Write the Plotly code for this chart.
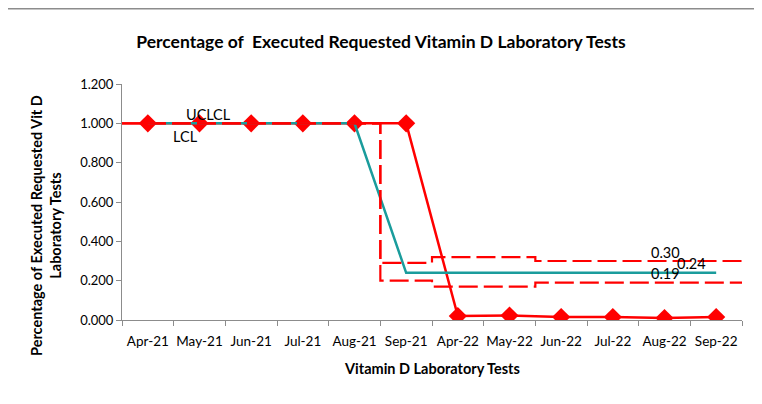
import plotly.graph_objects as go

months = ["Apr-21", "May-21", "Jun-21", "Jul-21", "Aug-21", "Sep-21",
          "Apr-22", "May-22", "Jun-22", "Jul-22", "Aug-22", "Sep-22"]
pct_executed = [1.0, 1.0, 1.0, 1.0, 1.0, 1.0, 0.020, 0.023, 0.015, 0.015, 0.010, 0.015]
center_line = [1.0, 1.0, 1.0, 1.0, 1.0, 0.24, 0.24, 0.24, 0.24, 0.24, 0.24, 0.24]
ucl = [1.0, 1.0, 1.0, 1.0, 1.0, 0.29, 0.32, 0.32, 0.30, 0.30, 0.30, 0.30]
lcl = [1.0, 1.0, 1.0, 1.0, 1.0, 0.20, 0.17, 0.17, 0.19, 0.19, 0.19, 0.19]
y_ticks = [0.0, 0.2, 0.4, 0.6, 0.8, 1.0, 1.2]

idx = list(range(len(months)))
# control limits extend to the plot edges (half a category on each side)
idx_ext = [idx[0] - 0.5] + idx + [idx[-1] + 0.5]
ucl_ext = [ucl[0]] + ucl + [ucl[-1]]
lcl_ext = [lcl[0]] + lcl + [lcl[-1]]

RED = "#FF0000"
TEAL = "#1A9C9C"
FONT = "Lato"

fig = go.Figure()
fig.add_trace(go.Scatter(x=idx, y=pct_executed, mode="lines+markers",
                         line=dict(color=RED, width=2.5),
                         marker=dict(symbol="diamond", size=14, color=RED),
                         showlegend=False))
fig.add_trace(go.Scatter(x=idx, y=center_line, mode="lines",
                         line=dict(color=TEAL, width=2.5), showlegend=False))
fig.add_trace(go.Scatter(x=idx_ext, y=ucl_ext, mode="lines",
                         line=dict(color=RED, width=2.2, dash="19px,6px", shape="hvh"),
                         showlegend=False))
fig.add_trace(go.Scatter(x=idx_ext, y=lcl_ext, mode="lines",
                         line=dict(color=RED, width=2.2, dash="19px,6px", shape="hvh"),
                         showlegend=False))

bounds = [i - 0.5 for i in idx] + [idx[-1] + 0.5]

fig.update_layout(
    width=762, height=404,
    margin=dict(l=114, r=28, t=76, b=92),
    paper_bgcolor="white", plot_bgcolor="white",
    font=dict(family=FONT, size=13, color="#000000"),
    title=dict(text="<b>Percentage of  Executed Requested Vitamin D Laboratory Tests</b>",
               x=373 / 762, xref="container", xanchor="center",
               y=1 - 34 / 404, yref="container", yanchor="middle",
               font=dict(family=FONT, size=17.5, color="#000000")),
    xaxis=dict(range=[-0.5, len(months) - 0.5], tickvals=idx, ticktext=months,
               showgrid=False, zeroline=False, showline=True, linecolor="#8C8C8C", linewidth=1,
               ticks="", ticklen=0, ticklabelstandoff=9,
               minor=dict(tickvals=bounds, ticks="outside", ticklen=5, tickcolor="#8C8C8C"),
               tickfont=dict(family=FONT, size=13.5)),
    yaxis=dict(range=[0, 1.2], tickvals=y_ticks, tickformat=".3f",
               showgrid=False, zeroline=False, showline=True, linecolor="#8C8C8C", linewidth=1,
               ticks="outside", ticklen=5, tickcolor="#8C8C8C",
               tickfont=dict(family=FONT, size=13)),
    shapes=[dict(type="line", xref="paper", yref="paper",
                 x0=(8 - 122) / 620, x1=(780 - 122) / 620,
                 y0=(312 - 0.8) / 236, y1=(312 - 0.8) / 236,
                 line=dict(color="#8C8C8C", width=1.5))],
)

ann = [
    dict(text="UCL", x=1.0, y=1.045),
    dict(text="CL", x=1.44, y=1.045),
    dict(text="LCL", x=0.72, y=0.935),
    dict(text="0.30", x=10.02, y=0.345),
    dict(text="0.24", x=10.52, y=0.288),
    dict(text="0.19", x=10.02, y=0.235),
]
for a in ann:
    fig.add_annotation(text=a["text"], x=a["x"], y=a["y"], xref="x", yref="y",
                       showarrow=False, font=dict(family=FONT, size=14.5, color="#000000"))

fig.add_annotation(text="<b>Percentage of Executed Requested Vit D<br>Laboratory Tests</b>",
                   xref="paper", yref="paper", x=(46 - 122) / 620, y=(320 - 226) / 236,
                   xanchor="center", yanchor="middle",
                   textangle=-90, showarrow=False, align="center",
                   font=dict(family=FONT, size=14.5, color="#000000"))
fig.add_annotation(text="<b>Vitamin D Laboratory Tests</b>",
                   xref="paper", yref="paper", x=(432 - 122) / 620, y=(320 - 368) / 236,
                   xanchor="center", yanchor="middle",
                   showarrow=False, font=dict(family=FONT, size=14.5, color="#000000"))

fig.write_html("out.html")
